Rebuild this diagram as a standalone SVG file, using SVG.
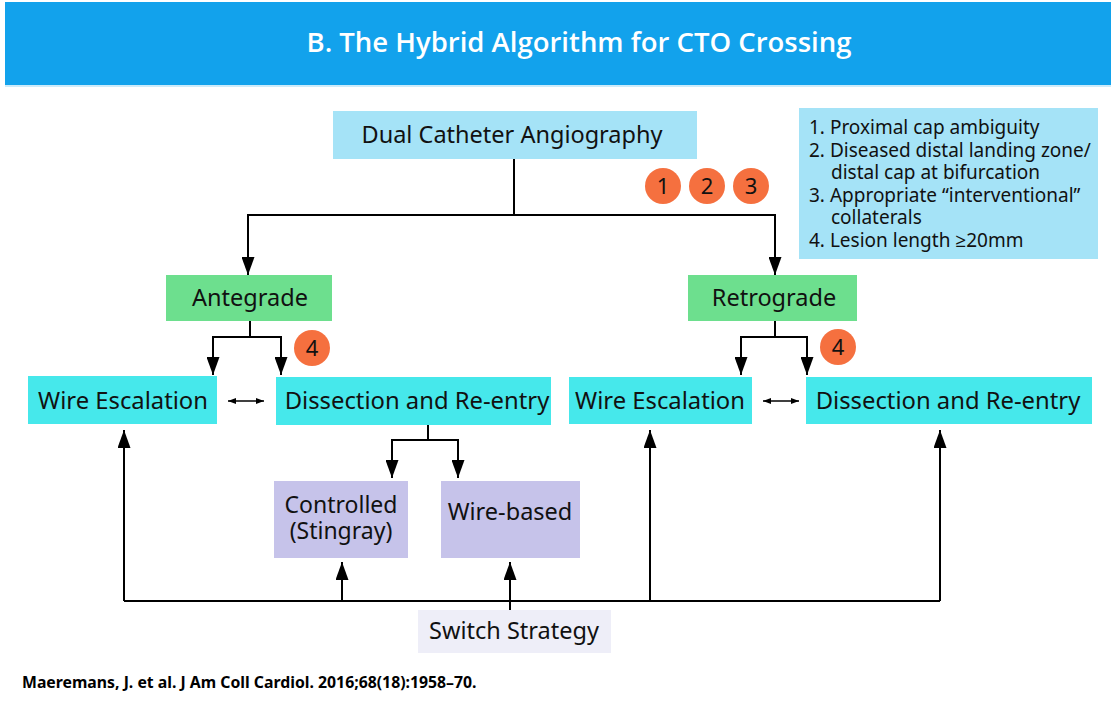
<svg xmlns="http://www.w3.org/2000/svg" width="1111" height="704" viewBox="0 0 1111 704">
<defs>
<marker id="ah" markerUnits="userSpaceOnUse" markerWidth="18" markerHeight="13" refX="18" refY="6.5" viewBox="0 0 18 13" orient="auto">
<path d="M0,0 L18,6.5 L0,13 Z" fill="#000"/>
</marker>
<marker id="sh" markerUnits="userSpaceOnUse" markerWidth="8" markerHeight="6" refX="8" refY="3" viewBox="0 0 8 6" orient="auto-start-reverse">
<path d="M0,0 L8,3 L0,6 Z" fill="#000"/>
</marker>
<style>
.t{font-family:"Noto Sans","Open Sans","Liberation Sans",sans-serif;fill:#111;}
.c{stroke:#000;stroke-width:2;fill:none;}
.a{marker-end:url(#ah);}
.d{stroke:#000;stroke-width:1.6;fill:none;marker-start:url(#sh);marker-end:url(#sh);}
.cy{fill:#46E8EB;}
.gr{fill:#6DDF8E;}
.lv{fill:#C6C3EA;}
.lb{fill:#A5E3F7;}
.or{fill:#F5703F;}
</style>
</defs>
<rect width="1111" height="704" fill="#fff"/>
<g id="header">
<rect x="5" y="2" width="1106" height="83" fill="#12A2EC"/>
<rect x="5" y="85" width="1106" height="2" fill="#CDEBFA"/>
<text x="579" y="52" text-anchor="middle" font-family="Open Sans, Noto Sans, Liberation Sans, sans-serif" font-weight="600" font-size="27.5" fill="#fff">B. The Hybrid Algorithm for CTO Crossing</text>
</g>
<g id="connectors">
<path class="c" d="M514,159 V215"/>
<path class="c a" d="M514,215 H248 V275"/>
<path class="c a" d="M514,215 H775 V275"/>
<path class="c" d="M250,321 V337"/>
<path class="c a" d="M250,337 H213 V375"/>
<path class="c a" d="M250,337 H281 V375"/>
<path class="c" d="M775,321 V337"/>
<path class="c a" d="M775,337 H741 V375"/>
<path class="c a" d="M775,337 H807 V375"/>
<path class="d" d="M228,401 H264"/>
<path class="d" d="M763,401 H799"/>
<path class="c" d="M428,425 V440"/>
<path class="c a" d="M428,440 H392 V478"/>
<path class="c a" d="M428,440 H458 V478"/>
<path class="c" d="M124,601 H940"/>
<path class="c a" d="M124,601 V430"/>
<path class="c a" d="M650,601 V430"/>
<path class="c a" d="M940,601 V430"/>
<path class="c a" d="M342,601 V562"/>
<path class="c a" d="M510,610 V562"/>
</g>
<g id="n-dual">
<rect class="lb" x="333" y="111" width="364" height="48"/>
<text class="t" x="512" y="143" text-anchor="middle" font-size="23.5">Dual Catheter Angiography</text>
</g>
<g id="n-badges123">
<circle class="or" cx="663" cy="186" r="18"/>
<text class="t" x="663" y="194" text-anchor="middle" font-size="22">1</text>
<circle class="or" cx="707" cy="186" r="18"/>
<text class="t" x="707" y="194" text-anchor="middle" font-size="22">2</text>
<circle class="or" cx="751" cy="186" r="18"/>
<text class="t" x="751" y="194" text-anchor="middle" font-size="22">3</text>
</g>
<g id="n-legend">
<rect class="lb" x="799" y="108" width="299" height="151"/>
<text class="t" font-size="19">
<tspan x="809" y="134">1. Proximal cap ambiguity</tspan>
<tspan x="809" y="157">2. Diseased distal landing zone/</tspan>
<tspan x="831" y="179">distal cap at bifurcation</tspan>
<tspan x="809" y="202">3. Appropriate “interventional”</tspan>
<tspan x="831" y="224">collaterals</tspan>
<tspan x="809" y="247">4. Lesion length ≥20mm</tspan>
</text>
</g>
<g id="n-antegrade">
<rect class="gr" x="166" y="275" width="166" height="46"/>
<text class="t" x="250" y="306" text-anchor="middle" font-size="23.5">Antegrade</text>
</g>
<g id="n-retrograde">
<rect class="gr" x="688" y="275" width="169" height="46"/>
<text class="t" x="774" y="306" text-anchor="middle" font-size="23.5">Retrograde</text>
</g>
<g id="n-badge4a">
<circle class="or" cx="312" cy="348" r="18"/>
<text class="t" x="312" y="356" text-anchor="middle" font-size="22">4</text>
</g>
<g id="n-badge4b">
<circle class="or" cx="838" cy="347" r="18"/>
<text class="t" x="838" y="355" text-anchor="middle" font-size="22">4</text>
</g>
<g id="n-wire-l">
<rect class="cy" x="28" y="376" width="189" height="48"/>
<text class="t" x="123" y="409" text-anchor="middle" font-size="23.8">Wire Escalation</text>
</g>
<g id="n-dre-l">
<rect class="cy" x="276" y="377" width="275" height="48"/>
<text class="t" x="417" y="409" text-anchor="middle" font-size="23.8">Dissection and Re-entry</text>
</g>
<g id="n-wire-r">
<rect class="cy" x="569" y="377" width="183" height="47"/>
<text class="t" x="660" y="409" text-anchor="middle" font-size="23.8">Wire Escalation</text>
</g>
<g id="n-dre-r">
<rect class="cy" x="806" y="377" width="286" height="47"/>
<text class="t" x="948" y="409" text-anchor="middle" font-size="23.8">Dissection and Re-entry</text>
</g>
<g id="n-controlled">
<rect class="lv" x="274" y="481" width="134" height="77"/>
<text class="t" text-anchor="middle" font-size="23"><tspan x="341" y="513">Controlled</tspan><tspan x="341" y="539">(Stingray)</tspan></text>
</g>
<g id="n-wirebased">
<rect class="lv" x="441" y="481" width="139" height="77"/>
<text class="t" x="510" y="520" text-anchor="middle" font-size="23.5">Wire-based</text>
</g>
<g id="n-switch">
<rect x="418" y="610" width="193" height="43" fill="#EEEEF8"/>
<text class="t" x="514" y="639" text-anchor="middle" font-size="23.5">Switch Strategy</text>
</g>
<g id="citation">
<text x="22" y="688" font-family="Noto Sans, Open Sans, Liberation Sans, sans-serif" font-weight="bold" font-size="15.8" fill="#000">Maeremans, J. et al. J Am Coll Cardiol. 2016;68(18):1958–70.</text>
</g>
</svg>
